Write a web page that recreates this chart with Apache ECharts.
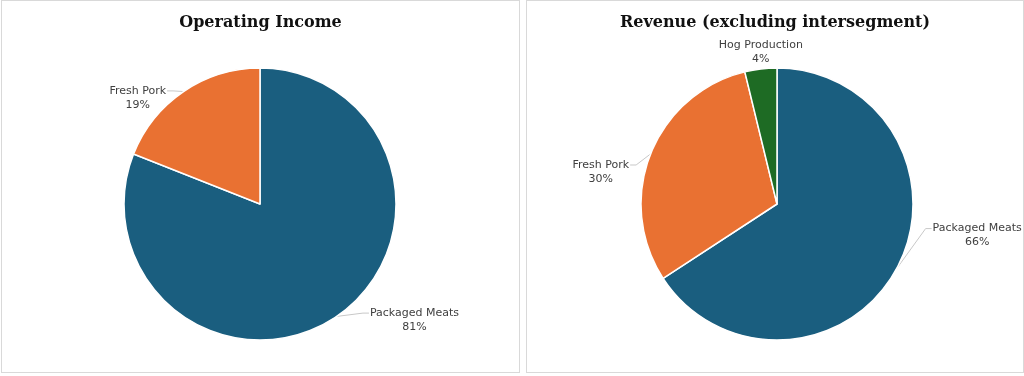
<!DOCTYPE html>
<html>
<head>
<meta charset="utf-8">
<script src="https://cdn.jsdelivr.net/npm/echarts@6/dist/echarts.min.js"></script>
<style>
  html, body { margin: 0; padding: 0; background: #fff; }
  .panel { position: absolute; top: 0; height: 373px; border: 1px solid #d9d9d9; box-sizing: border-box; }
  #left { left: 1px; width: 519px; }
  #right { left: 526px; width: 498px; }
</style>
</head>
<body>
<div id="left" class="panel"></div>
<div id="right" class="panel"></div>
<script>
// Operating Income split
const incomeNames = ['Packaged Meats', 'Fresh Pork'];
const incomeValues = [81, 19];

// Revenue split (excluding intersegment)
const revenueNames = ['Packaged Meats', 'Fresh Pork', 'Hog Production'];
const revenueValues = [65.8, 30.4, 3.8];

const colors = ['#1a5e7f', '#e97132', '#1e6b24'];

// label nudges, the way the labels were dragged around in the original
const incomeNudge = [{dx: 2, dy: -10}, {dx: 14, dy: 6}];
const revenueNudge = [{dx: 2, dy: -44}, {dx: 13, dy: 14}, {dx: 70, dy: -16}];

function pieOption(title, names, values, center, nudge, noLine) {
    return {
        animation: false,
        color: colors,
        title: {
            text: title,
            left: 'center',
            top: 9,
            textStyle: { fontFamily: 'DejaVu Serif', fontWeight: 'bold', fontSize: 16, color: '#111' }
        },
        series: [{
            type: 'pie',
            radius: 136,
            center: center,
            startAngle: 90,
            clockwise: true,
            avoidLabelOverlap: false,
            itemStyle: { borderColor: '#fff', borderWidth: 1.5 },
            label: {
                formatter: '{n|{b}}\n{p|{d}%}',
                overflow: 'none',
                fontFamily: 'DejaVu Sans',
                fontSize: 11,
                color: '#404040',
                lineHeight: 14,
                padding: [14, 0, 0, 0],
                rich: {
                    n: { align: 'center', fontFamily: 'DejaVu Sans', fontSize: 11, lineHeight: 14, color: '#404040' },
                    p: { align: 'center', fontFamily: 'DejaVu Sans', fontSize: 11, lineHeight: 14, color: '#404040' }
                }
            },
            labelLine: { length: 8, length2: 22, lineStyle: { color: '#c8c8c8', width: 1 } },
            labelLayout: function (p) {
                const n = nudge[p.dataIndex];
                const pts = p.labelLinePoints;
                if (!pts) return n;
                const r = p.labelRect;
                const edge = pts[0];
                const x0 = r.x + n.dx, y0 = r.y + n.dy;
                const onRight = x0 + r.width / 2 > edge[0];
                const ex = onRight ? x0 - 1 : x0 + r.width + 1;
                const ey = y0 + 21;
                const mx = onRight ? ex - 6 : ex + 6;
                return { dx: n.dx, dy: n.dy, labelLinePoints: [edge, [mx, ey], [ex, ey]] };
            },
            percentPrecision: 0,
            data: names.map((n, i) => ({
                name: n,
                value: values[i],
                labelLine: { show: noLine.indexOf(i) < 0 }
            }))
        }]
    };
}

const left = echarts.init(document.getElementById('left'));
left.setOption(pieOption('Operating Income', incomeNames, incomeValues, [258, 203], incomeNudge, []));

const right = echarts.init(document.getElementById('right'));
right.setOption(pieOption('Revenue (excluding intersegment)', revenueNames, revenueValues, [250, 203], revenueNudge, [2]));
</script>
</body>
</html>
